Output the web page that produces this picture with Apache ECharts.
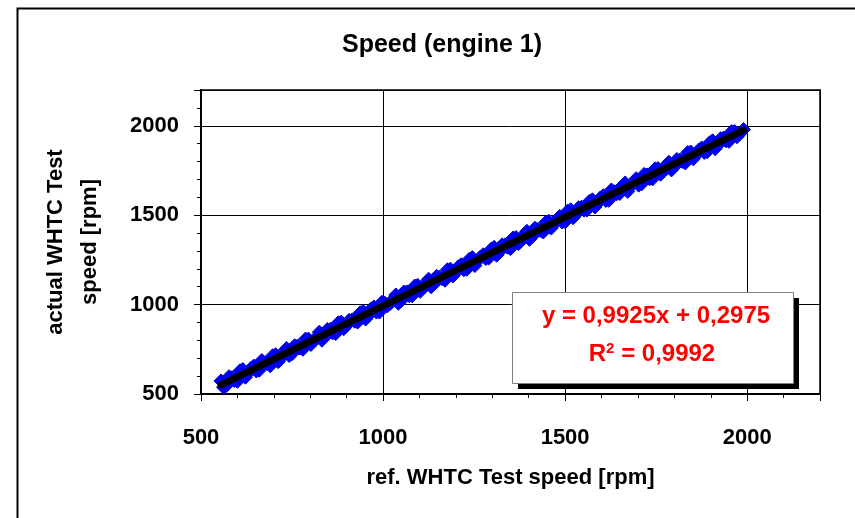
<!DOCTYPE html>
<html>
<head>
<meta charset="utf-8">
<style>
  html, body { margin: 0; padding: 0; background: #fff; }
  #chart { width: 855px; height: 518px; }
</style>
<script src="https://cdn.jsdelivr.net/npm/echarts@6/dist/echarts.min.js"></script>
</head>
<body>
<div id="chart"></div>
<script>
// ---- data ----
const titleText = 'Speed (engine 1)';
const xName = 'ref. WHTC Test speed [rpm]';
const yName = 'actual WHTC Test\nspeed [rpm]';
const axisMin = 500;
const axisMax = 2200;
const majorTicks = [500, 1000, 1500, 2000];

// measured points, part A
const refSpeedA = [555, 570, 585, 600, 615, 630, 645, 660, 675, 690,
  705, 720, 735, 750, 765, 780, 795, 810, 825, 840,
  855, 870, 885, 900, 915, 930, 945, 960, 975, 990,
  1005, 1020, 1035, 1050, 1065, 1080, 1095, 1110, 1125, 1140,
  1155, 1170, 1185, 1200, 1215, 1230, 1245, 1260, 1275, 1290,
  1305, 1320, 1335, 1350, 1365, 1380, 1395, 1410, 1425, 1440,
  1455, 1470, 1485, 1500, 1515, 1530, 1545, 1560, 1575, 1590,
  1605, 1620, 1635, 1650, 1665, 1680, 1695, 1710, 1725, 1740,
  1755, 1770, 1785, 1800, 1815, 1830, 1845, 1860, 1875, 1890,
  1905, 1920, 1935, 1950, 1965, 1980, 1990];
const actualSpeedA = [573, 548, 591, 571, 637, 618, 656, 633, 674, 658,
  720, 703, 755, 725, 768, 750, 807, 800, 846, 818,
  861, 838, 902, 884, 914, 902, 962, 939, 987, 958,
  1008, 1007, 1054, 1023, 1071, 1049, 1108, 1093, 1142, 1115,
  1154, 1136, 1198, 1179, 1223, 1197, 1263, 1246, 1279, 1260,
  1320, 1295, 1334, 1313, 1375, 1359, 1410, 1382, 1420, 1406,
  1466, 1451, 1492, 1463, 1530, 1505, 1545, 1529, 1586, 1568,
  1609, 1583, 1631, 1621, 1680, 1662, 1704, 1675, 1725, 1703,
  1761, 1745, 1796, 1771, 1808, 1792, 1853, 1837, 1876, 1855,
  1916, 1893, 1931, 1913, 1968, 1957, 1979];

// measured points, part B
const refSpeedB = [562, 577, 592, 607, 622, 637, 652, 667, 682, 697,
  712, 727, 742, 757, 772, 787, 802, 817, 832, 847,
  862, 877, 892, 907, 922, 937, 952, 967, 982, 997,
  1012, 1027, 1042, 1057, 1072, 1087, 1102, 1117, 1132, 1147,
  1162, 1177, 1192, 1207, 1222, 1237, 1252, 1267, 1282, 1297,
  1312, 1327, 1342, 1357, 1372, 1387, 1402, 1417, 1432, 1447,
  1462, 1477, 1492, 1507, 1522, 1537, 1552, 1567, 1582, 1597,
  1612, 1627, 1642, 1657, 1672, 1687, 1702, 1717, 1732, 1747,
  1762, 1777, 1792, 1807, 1822, 1837, 1852, 1867, 1882, 1897,
  1912, 1927, 1942, 1957, 1972];
const actualSpeedB = [538, 597, 576, 630, 594, 643, 629, 687, 671, 714,
  681, 736, 715, 770, 757, 807, 777, 817, 801, 861,
  842, 898, 865, 912, 907, 954, 919, 976, 958, 1013,
  993, 1028, 1007, 1070, 1049, 1104, 1074, 1120, 1100, 1158,
  1145, 1195, 1160, 1212, 1195, 1254, 1218, 1265, 1258, 1310,
  1276, 1334, 1321, 1372, 1341, 1390, 1365, 1427, 1415, 1460,
  1428, 1476, 1462, 1523, 1486, 1542, 1528, 1578, 1546, 1597,
  1582, 1641, 1620, 1664, 1633, 1683, 1668, 1728, 1704, 1759,
  1729, 1778, 1753, 1812, 1801, 1851, 1815, 1864, 1851, 1905,
  1872, 1928, 1916, 1967, 1939];

// trend line end points (y = 0,9925x + 0,2975)
const trendRef = [555, 1990];
const trendActual = [551.1, 1975.4];

const equationText = 'y = 0,9925x + 0,2975';
const r2Value = '0,9992';

// ---- chart ----
const FONT = 'Liberation Sans, Arial, sans-serif';
const scatterData = refSpeedA.map((x, i) => [x, actualSpeedA[i]])
  .concat(refSpeedB.map((x, i) => [x, actualSpeedB[i]]));
const trendData = trendRef.map((x, i) => [x, trendActual[i]]);
const labelFmt = v => (majorTicks.indexOf(v) >= 0 ? String(v) : '');

const chart = echarts.init(document.getElementById('chart'), null, { renderer: 'canvas' });
const option = {
  animation: false,
  backgroundColor: '#fff',
  title: {
    text: titleText,
    left: 442,
    textAlign: 'center',
    top: 33,
    padding: 0,
    textStyle: { fontFamily: FONT, fontWeight: 'bold', fontSize: 25, color: '#000' }
  },
  grid: {
    left: 201, top: 90, width: 619, height: 304,
    show: true, borderColor: '#404040', borderWidth: 2, backgroundColor: 'transparent'
  },
  xAxis: [
    {
      type: 'value', min: axisMin, max: axisMax, interval: 100, position: 'bottom',
      name: xName, nameLocation: 'middle', nameGap: 71,
      nameTextStyle: { fontFamily: FONT, fontWeight: 'bold', fontSize: 22, color: '#000', lineHeight: 26, verticalAlign: 'top' },
      axisLine: { show: true, lineStyle: { color: '#000', width: 2 } },
      axisTick: { show: true, length: 4, lineStyle: { color: '#000', width: 1 } },
      axisLabel: { formatter: labelFmt, margin: 31, fontFamily: FONT, fontWeight: 'bold', fontSize: 22, color: '#000', lineHeight: 26 },
      splitLine: { show: false }
    },
    {
      type: 'value', min: axisMin, max: axisMax, interval: 500, position: 'bottom',
      axisLine: { show: false },
      axisTick: { show: true, length: 7, lineStyle: { color: '#000', width: 1 } },
      axisLabel: { show: false },
      splitLine: { show: true, lineStyle: { color: '#000', width: 1 } }
    }
  ],
  yAxis: [
    {
      type: 'value', min: axisMin, max: axisMax, interval: 100, position: 'left',
      name: yName, nameLocation: 'middle', nameGap: 94, nameRotate: 90,
      nameTextStyle: { fontFamily: FONT, fontWeight: 'bold', fontSize: 22, color: '#000', lineHeight: 34, align: 'center' },
      axisLine: { show: true, lineStyle: { color: '#000', width: 2 } },
      axisTick: { show: true, length: 4, lineStyle: { color: '#000', width: 1 } },
      axisLabel: { formatter: labelFmt, margin: 22, fontFamily: FONT, fontWeight: 'bold', fontSize: 22, color: '#000' },
      splitLine: { show: false }
    },
    {
      type: 'value', min: axisMin, max: axisMax, interval: 500, position: 'left',
      axisLine: { show: false },
      axisTick: { show: true, length: 7, lineStyle: { color: '#000', width: 1 } },
      axisLabel: { show: false },
      splitLine: { show: true, lineStyle: { color: '#000', width: 1 } }
    }
  ],
  series: [
    {
      type: 'scatter', xAxisIndex: 0, yAxisIndex: 0,
      data: scatterData, symbol: 'diamond', symbolSize: 14,
      itemStyle: { color: '#0000ff', borderColor: '#0000c8', borderWidth: 1, opacity: 1 }
    },
    {
      type: 'line', xAxisIndex: 0, yAxisIndex: 0,
      data: trendData, showSymbol: false, symbol: 'none',
      lineStyle: { color: '#000', width: 7, cap: 'round' }, z: 5
    }
  ],
  graphic: [
    {
      type: 'rect', left: 15, top: 6, silent: true, z: 0,
      shape: { x: 0, y: 0, width: 900, height: 600 },
      style: { fill: 'none', stroke: '#000', lineWidth: 2 }
    },
    {
      type: 'rect', left: 518, top: 298, z: 100, silent: true,
      shape: { x: 0, y: 0, width: 281, height: 91 }, style: { fill: '#000' }
    },
    {
      type: 'rect', left: 512, top: 292, z: 101, silent: true,
      shape: { x: 0, y: 0, width: 281, height: 91 }, style: { fill: '#ffffff', stroke: '#808080', lineWidth: 1 }
    },
    {
      type: 'text', x: 656, y: 316, z: 102, silent: true,
      style: { text: equationText, fill: '#ff0000', font: 'bold 24px ' + FONT, align: 'center', verticalAlign: 'middle' }
    },
    {
      type: 'text', x: 652, y: 354, z: 102, silent: true,
      style: {
        text: 'R{sup|2} = ' + r2Value,
        fill: '#ff0000', font: 'bold 24px ' + FONT, align: 'center', verticalAlign: 'middle',
        rich: {
          sup: { fontSize: 15, fontWeight: 'bold', fontFamily: FONT, fill: '#ff0000', verticalAlign: 'top', lineHeight: 26, padding: [0, 0, 10, 0] }
        }
      }
    }
  ]
};
chart.setOption(option);
</script>
</body>
</html>
